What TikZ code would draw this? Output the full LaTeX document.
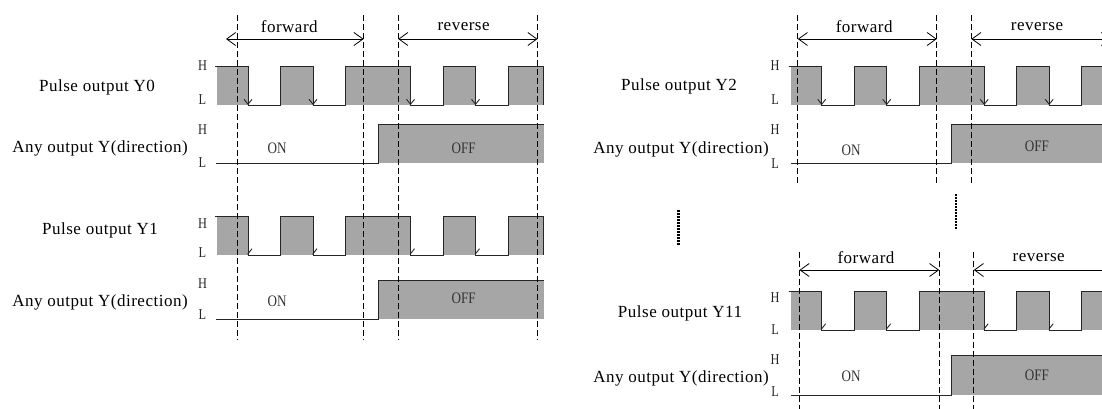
\documentclass[tikz,border=0pt]{standalone}
\usepackage{fontspec}
\setmainfont{Liberation Serif}[LetterSpace=3]
\newfontfamily\etroit{Liberation Serif}[FakeStretch=0.82]
\usetikzlibrary{arrows.meta}
\definecolor{grisP}{HTML}{A6A6A6}
\definecolor{traitC}{HTML}{262626}
\tikzset{
  signal/.style={font=\fontsize{17}{19}\selectfont, inner sep=0pt},
  niveau/.style={font=\etroit\fontsize{15}{17}\selectfont, text=black!85, inner sep=0pt},
  etat/.style={font=\etroit\fontsize{16}{18}\selectfont, text=black!80, inner sep=0pt},
  sens/.style={font=\fontsize{17}{19}\selectfont, inner sep=0pt},
  repere/.style={dash pattern=on 6pt off 3pt, line width=0.9pt},
  fleche/.style={{Straight Barb[length=9pt,width=13pt]}-{Straight Barb[length=9pt,width=13pt]}, line width=0.8pt},
  front/.style={-{Straight Barb[length=5pt,width=8pt]}, line width=0.9pt, draw=traitC},
  demifront/.style={-{Straight Barb[left,length=5pt,width=8pt]}, line width=0.9pt, draw=traitC},
  trace/.style={line width=0.9pt, draw=traitC},
  pointille/.style={line width=2.2pt, dash pattern=on 1.6pt off 1.4pt},
}
% #1 first falling edge, #2 level H, #3 level L, #4 tip style
\newcommand{\impulsions}[4]{
  \foreach \a/\b in {-31/0, 32.5/65, 97.5/162.5, 195/227.5, 260/295}
    \fill[grisP] ({#1+\a},#2) rectangle ({#1+\b},#3);
  \draw[trace] ({#1-33},#2) -- ({#1},#2) -- ({#1},#3) -- ({#1+32.5},#3) -- ({#1+32.5},#2)
    -- ({#1+65},#2) -- ({#1+65},#3) -- ({#1+97.5},#3) -- ({#1+97.5},#2) -- ({#1+162.5},#2)
    -- ({#1+162.5},#3) -- ({#1+195},#3) -- ({#1+195},#2) -- ({#1+227.5},#2) -- ({#1+227.5},#3)
    -- ({#1+260},#3) -- ({#1+260},#2) -- ({#1+295},#2) -- ({#1+295},#3);
  \foreach \c in {0, 65, 162.5, 227.5}
    \draw[#4] ({#1+\c},#2) -- ({#1+\c},#3);
}
% #1 start, #2 rising edge, #3 end, #4 level H, #5 level L
\newcommand{\direction}[5]{
  \fill[grisP] (#2,#4) rectangle (#3,#5);
  \draw[trace] (#1,#5) -- (#2,#5) -- (#2,#4) -- (#3,#4);
}

\begin{document}
\begin{tikzpicture}[x=1pt, y=-1pt]
  \useasboundingbox (0,0) rectangle (1102,408);
  \clip (0,0) rectangle (1102,408);

  % left
  \impulsions{248}{66.7}{105}{front}
  \direction{216}{378.6}{543.6}{124}{163.3}
  \impulsions{248}{216}{255}{demifront}
  \direction{216}{378.6}{543.6}{280.7}{319.3}
  \foreach \x in {237.5, 363.6, 398.2, 537.5}
    \draw[repere] (\x,15) -- (\x,340);
  \coordinate (fg1) at (226,39);
  \coordinate (fd1) at (363.6,39);
  \coordinate (rg1) at (398.2,39);
  \coordinate (rd1) at (537.5,39);
  \draw[fleche] (fg1) -- (fd1);
  \draw[fleche] (rg1) -- (rd1);
  \node[sens] (av1) at (289.3,26.7) {forward};
  \node[sens] (ar1) at (463.6,26.7) {reverse};

  \node[signal] (y0) at (97,87) {Pulse output Y0};
  \node[niveau] (y0h) at (202.5,66) {H};
  \node[niveau] (y0l) at (202.5,100) {L};
  \node[signal] (d0) at (100,148.3) {Any output Y(direction)};
  \node[niveau] (d0h) at (202.5,130) {H};
  \node[niveau] (d0l) at (202.5,163) {L};
  \node[etat] (on0) at (277,148.3) {ON};
  \node[etat] (off0) at (463.6,148.3) {OFF};

  \node[signal] (y1) at (100,230) {Pulse output Y1};
  \node[niveau] (y1h) at (202.5,223.5) {H};
  \node[niveau] (y1l) at (202.5,253) {L};
  \node[signal] (d1) at (100,302.7) {Any output Y(direction)};
  \node[niveau] (d1h) at (202.5,284) {H};
  \node[niveau] (d1l) at (202.5,315) {L};
  \node[etat] (on1) at (277,301.7) {ON};
  \node[etat] (off1) at (463.6,298) {OFF};

  % right
  \impulsions{821.7}{66.7}{105}{front}
  \direction{791}{951.6}{1110}{124}{163.3}
  \impulsions{821.7}{291}{330}{demifront}
  \direction{791}{951.6}{1110}{355.7}{395}
  \foreach \x in {797.8, 936.8, 971.3}
    \draw[repere] (\x,15) -- (\x,183.3);
  \foreach \x in {799.5, 939.2, 973.8}
    \draw[repere] (\x,251.7) -- (\x,410);
  \coordinate (fg2) at (797.8,39);
  \coordinate (fd2) at (936.8,39);
  \coordinate (rg2) at (971.3,39);
  \coordinate (rd2) at (1111,39);
  \draw[fleche] (fg2) -- (fd2);
  \draw[fleche] (rg2) -- (rd2);
  \node[sens] (av2) at (864.2,26.7) {forward};
  \node[sens] (ar2) at (1037,26.7) {reverse};
  \coordinate (fg3) at (799.5,270);
  \coordinate (fd3) at (939.2,270);
  \coordinate (rg3) at (973.8,270);
  \coordinate (rd3) at (1113,270);
  \draw[fleche] (fg3) -- (fd3);
  \draw[fleche] (rg3) -- (rd3);
  \node[sens] (av3) at (866,257.7) {forward};
  \node[sens] (ar3) at (1038.7,257.7) {reverse};

  \node[signal] (y2) at (679,86.7) {Pulse output Y2};
  \node[niveau] (y2h) at (775,65.7) {H};
  \node[niveau] (y2l) at (775,100) {L};
  \node[signal, anchor=east] (d2) at (769,149) {Any output Y(direction)};
  \node[niveau] (d2h) at (775,130) {H};
  \node[niveau] (d2l) at (775,163.3) {L};
  \node[etat] (on2) at (851,150) {ON};
  \node[etat] (off2) at (1037,146) {OFF};

  \draw[pointille] (678.5,210) -- (678.5,245);
  \draw[pointille] (956.3,194) -- (956.3,229);

  \node[signal] (y11) at (680,313.3) {Pulse output Y11};
  \node[niveau] (y11h) at (775,297.7) {H};
  \node[niveau] (y11l) at (775,330) {L};
  \node[signal, anchor=east] (d3) at (769,378.3) {Any output Y(direction)};
  \node[niveau] (d3h) at (775,359.3) {H};
  \node[niveau] (d3l) at (775,391.7) {L};
  \node[etat] (on3) at (851,376.7) {ON};
  \node[etat] (off3) at (1037,375) {OFF};
\end{tikzpicture}
\end{document}
